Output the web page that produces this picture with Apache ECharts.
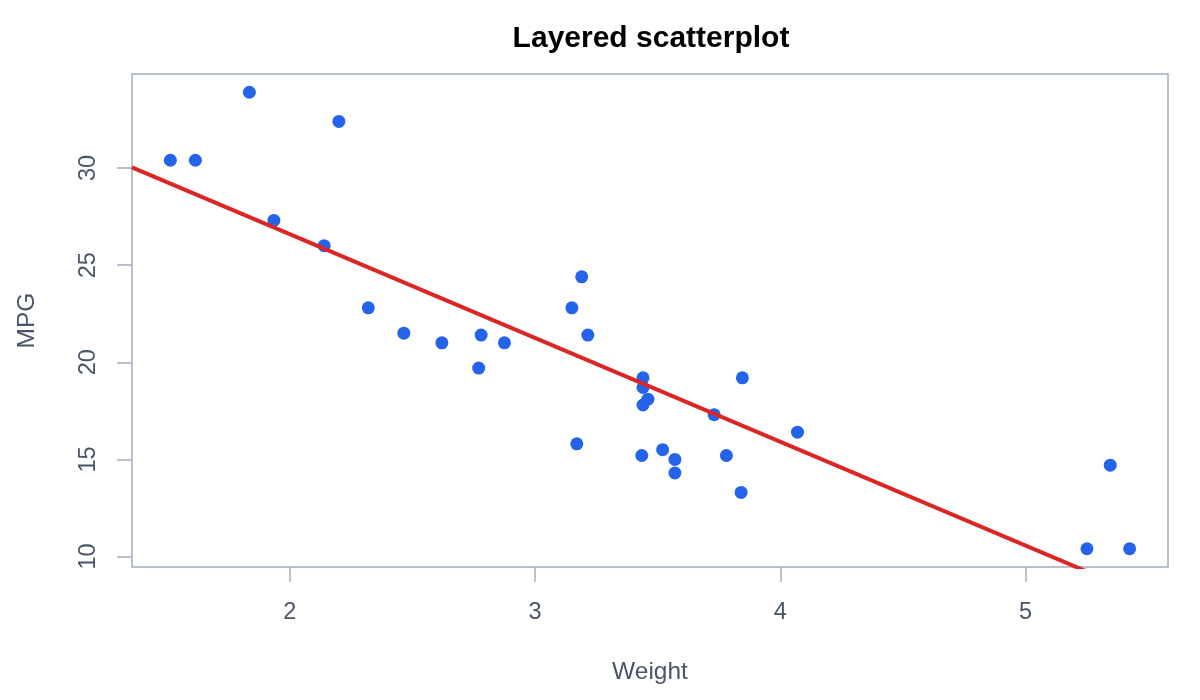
<!DOCTYPE html>
<html><head><meta charset="utf-8">
<script src="https://cdn.jsdelivr.net/npm/echarts@6/dist/echarts.min.js"></script>
<style>html,body{margin:0;padding:0;background:#fff}#c{width:1200px;height:700px}</style>
</head><body><div id="c"></div>
<script>
// mtcars: weight (1000 lbs) and MPG
const weight = [2.620,2.875,2.320,3.215,3.440,3.460,3.570,3.190,3.150,3.440,3.440,4.070,3.730,3.780,5.250,5.424,5.345,2.200,1.615,1.835,2.465,3.520,3.435,3.840,3.845,1.935,2.140,1.513,3.170,2.770,3.570,2.780];
const mpg = [21.0,21.0,22.8,21.4,18.7,18.1,14.3,24.4,22.8,19.2,17.8,16.4,17.3,15.2,10.4,10.4,14.7,32.4,30.4,33.9,21.5,15.5,15.2,13.3,19.2,27.3,26.0,30.4,15.8,19.7,15.0,21.4];
const xTicks = [2,3,4,5];
const yTicks = [10,15,20,25,30];

const points = weight.map((w,i)=>[w,mpg[i]]);
// least-squares fit
const n = weight.length;
const mx = weight.reduce((a,b)=>a+b,0)/n, my = mpg.reduce((a,b)=>a+b,0)/n;
let sxy=0, sxx=0;
for(let i=0;i<n;i++){sxy+=(weight[i]-mx)*(mpg[i]-my);sxx+=(weight[i]-mx)**2;}
const slope = sxy/sxx, intercept = my - slope*mx;
// R-style 4% axis extension
const xr = Math.max(...weight)-Math.min(...weight), yr = Math.max(...mpg)-Math.min(...mpg);
const xMin = Math.min(...weight)-0.04*xr, xMax = Math.max(...weight)+0.04*xr;
const yMin = Math.min(...mpg)-0.04*yr, yMax = Math.max(...mpg)+0.04*yr;
const fitLine = [[xMin, intercept+slope*xMin],[xMax, intercept+slope*xMax]];

const axisCol = '#a3adbd', textCol = '#4a5568';
const FF = 'Liberation Sans, Arial, sans-serif';
const chart = echarts.init(document.getElementById('c'));
chart.setOption({
  animation:false,
  backgroundColor:'#ffffff',
  title:{text:'Layered scatterplot',left:646,top:19,textAlign:'center',
    textStyle:{fontFamily:FF,fontSize:30,fontWeight:'bold',color:'#000'}},
  grid:{left:132,right:32,top:74,bottom:133,show:true,borderColor:axisCol,borderWidth:1.5,backgroundColor:'transparent'},
  xAxis:{type:'value',min:xMin,max:xMax,
    name:'Weight',nameLocation:'middle',nameGap:93,
    nameTextStyle:{fontFamily:FF,fontSize:24.5,color:textCol},
    axisLine:{show:false},splitLine:{show:false},
    axisTick:{show:true,length:15,customValues:xTicks,lineStyle:{color:axisCol,width:1.5}},
    axisLabel:{customValues:xTicks,margin:34,fontFamily:FF,fontSize:23.5,color:textCol}},
  yAxis:{type:'value',min:yMin,max:yMax,
    name:'MPG',nameLocation:'middle',nameGap:92,nameRotate:90,
    nameTextStyle:{fontFamily:FF,fontSize:24.5,color:textCol},
    axisLine:{show:false},splitLine:{show:false},
    axisTick:{show:true,length:15,customValues:yTicks,lineStyle:{color:axisCol,width:1.5}},
    axisLabel:{customValues:yTicks,rotate:90,margin:31,fontFamily:FF,fontSize:23.5,color:textCol}},
  series:[
    {type:'scatter',data:points,symbol:'circle',symbolSize:13,itemStyle:{color:'#2563eb',opacity:1},z:2},
    {type:'line',data:fitLine,symbol:'none',clip:true,lineStyle:{color:'#dc2626',width:4},z:3}
  ]
});
</script></body></html>
